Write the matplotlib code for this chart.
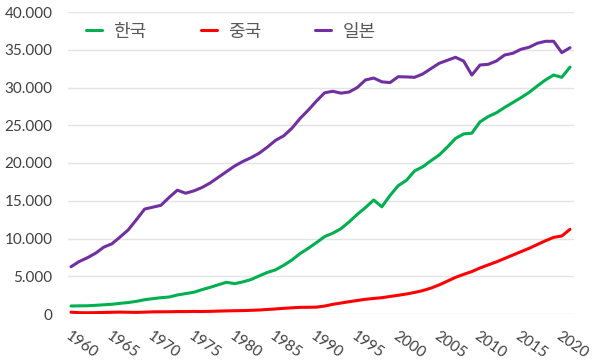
import matplotlib
matplotlib.use('Agg')
import matplotlib.pyplot as plt
from matplotlib.ticker import FuncFormatter

plt.rcParams['font.family'] = ['Lato', 'Noto Sans CJK KR', 'DejaVu Sans']

years = list(range(1960, 2022))

korea = [1060, 1080, 1090, 1150, 1220, 1290, 1410, 1520, 1680, 1890,
         2030, 2160, 2250, 2520, 2700, 2880, 3220, 3530, 3870, 4200,
         4020, 4250, 4560, 5050, 5500, 5850, 6450, 7150, 8000, 8700,
         9450, 10250, 10700, 11300, 12200, 13200, 14100, 15100, 14200, 15700,
         17000, 17700, 18950, 19500, 20300, 21050, 22100, 23250, 23850, 23950,
         25450, 26150, 26650, 27350, 28000, 28650, 29350, 30200, 31000, 31650,
         31350, 32700]

china = [240, 175, 165, 180, 205, 230, 250, 230, 215, 245,
         285, 295, 300, 320, 320, 340, 330, 350, 385, 410,
         435, 450, 485, 530, 600, 670, 750, 820, 880, 890,
         910, 1050, 1280, 1450, 1630, 1790, 1950, 2060, 2160, 2320,
         2480, 2650, 2850, 3100, 3430, 3850, 4350, 4850, 5250, 5620,
         6100, 6500, 6900, 7350, 7800, 8250, 8700, 9200, 9700, 10150,
         10330, 11220]

japan = [6260, 6950, 7450, 8050, 8850, 9300, 10200, 11150, 12500, 13900,
         14150, 14400, 15450, 16400, 16000, 16300, 16750, 17350, 18100, 18850,
         19600, 20200, 20700, 21300, 22100, 23000, 23600, 24600, 25900, 27000,
         28200, 29300, 29500, 29250, 29400, 30000, 31000, 31250, 30750, 30650,
         31430, 31400, 31350, 31790, 32500, 33200, 33600, 34000, 33500, 31650,
         32980, 33070, 33510, 34300, 34530, 35060, 35330, 35860, 36120, 36120,
         34610, 35270]

labels = ['한국', '중국', '일본']
colors = ['#00B050', '#FF0000', '#7030A0']

fig = plt.figure(figsize=(6, 3.6), dpi=100)
ax = fig.add_axes([68/600, 46/360, 506/600, 302/360])

for vals, lab, col in zip([korea, china, japan], labels, colors):
    ax.plot(years, vals, color=col, lw=2.2, label=lab, solid_capstyle='round')

ax.set_xlim(1959.63, 2021.49)
ax.set_ylim(0, 40000)
ax.set_yticks(range(0, 40001, 5000))
ax.yaxis.set_major_formatter(FuncFormatter(lambda v, p: f'{int(v):,}'.replace(',', '.')))
ax.set_xticks(range(1960, 2021, 5))

ax.yaxis.grid(True, color='#e4e4e4', lw=1)
ax.set_axisbelow(True)
for s in ax.spines.values():
    s.set_visible(False)

ax.tick_params(axis='y', length=0, pad=11, labelsize=11, labelcolor='#404040')
ax.tick_params(axis='x', length=0, pad=11, labelsize=11, labelcolor='#404040')
plt.setp(ax.get_xticklabels(), rotation=-35, ha='left', rotation_mode='anchor')

leg = ax.legend(loc='center left', bbox_to_anchor=(0.036, 0.935), ncol=3,
                frameon=False, fontsize=13, handlelength=0.9, handletextpad=0.6,
                columnspacing=3.0, borderpad=0, borderaxespad=0)
for t in leg.get_texts():
    t.set_color('#595959')

fig.savefig('out.png', dpi=100)
